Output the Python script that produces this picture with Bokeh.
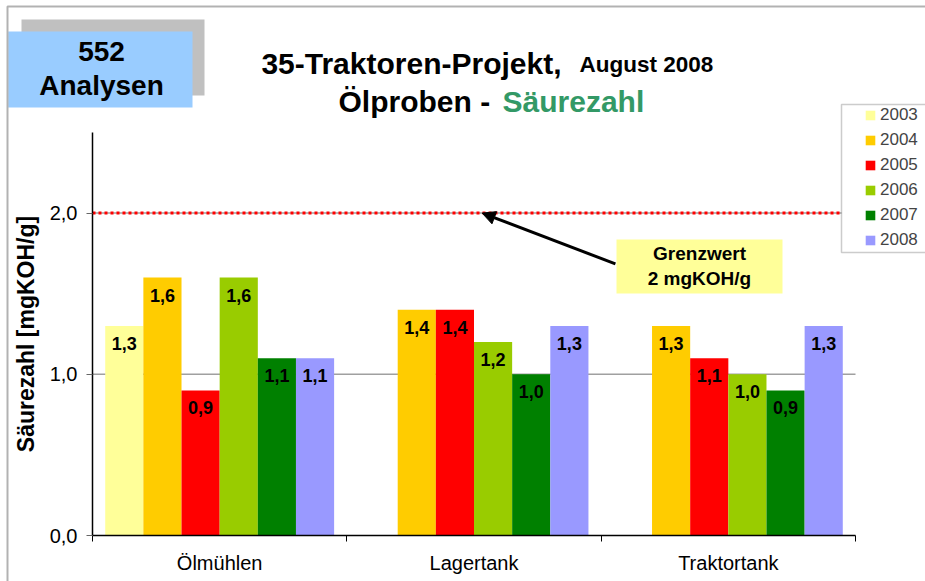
import math
from bokeh.plotting import figure
from bokeh.models import (Range1d, LinearAxis, FixedTicker, ColumnDataSource, Label,
                          BoxAnnotation, Arrow, NormalHead, Legend, LegendItem,
                          CustomJSTickFormatter)
from bokeh.transform import dodge
from bokeh.embed import file_html
from bokeh.resources import INLINE
from bokeh.core.properties import value

# ---------------- data ----------------
categories = ["Ölmühlen", "Lagertank", "Traktortank"]
years = ["2003", "2004", "2005", "2006", "2007", "2008"]
v2003 = [1.3, float("nan"), float("nan")]
v2004 = [1.6, 1.4, 1.3]
v2005 = [0.9, 1.4, 1.1]
v2006 = [1.6, 1.2, 1.0]
v2007 = [1.1, 1.0, 0.9]
v2008 = [1.1, 1.3, 1.3]
colors = ["#FFFF99", "#FFCC00", "#FF0000", "#99CC00", "#008000", "#9999FF"]
limit = 2.0
limit_lines = ["Grenzwert", "2 mgKOH/g"]
y_ticks = [0.0, 1.0, 2.0]
y_max = 2.5
analyses_lines = ["552", "Analysen"]
title_main = "35-Traktoren-Projekt,"
title_date = "August 2008"
title_sub1 = "Ölproben - "
title_sub2 = "Säurezahl"
y_title = "Säurezahl [mgKOH/g]"

FONT = "Liberation Sans"
series = [v2003, v2004, v2005, v2006, v2007, v2008]
n_cat = len(categories)
cat_x = [i + 0.5 for i in range(n_cat)]

def fmt(v):
    return "" if math.isnan(v) else f"{v:.1f}".replace(".", ",")

data = {"cx": cat_x}
for y, vals in zip(years, series):
    data["y" + y] = vals
    data["l" + y] = [fmt(v) for v in vals]
src = ColumnDataSource(data)

# ---------------- layout (pixels) ----------------
W, H = 925, 581
PL, PR, PT, PB = 92, 855, 132, 535          # plot area edges on the canvas
ppx = (PR - PL) / n_cat
ppy = (PB - PT) / y_max

def sy(py):
    return H - py

p = figure(x_range=Range1d(-PL / ppx, (W - PL) / ppx),
           y_range=Range1d(-(H - PB) / ppy, PB / ppy),
           width=W, height=H, output_backend="svg", toolbar_location=None,
           x_axis_location=None, min_border=0)
p.min_border_left = p.min_border_right = p.min_border_top = p.min_border_bottom = 0
p.outline_line_color = None
p.background_fill_color = "white"
p.border_fill_color = "white"
p.xgrid.visible = False
p.ygrid.visible = False

# y axis (fixed at the left edge of the plot area)
yax = p.yaxis[0]
yax.fixed_location = 0
yax.bounds = (0, y_max)
yax.ticker = FixedTicker(ticks=y_ticks)
yax.formatter = CustomJSTickFormatter(code="return tick.toFixed(1).replace('.', ',');")
yax.minor_tick_line_color = None
yax.major_tick_in = 0
yax.major_tick_out = 6
yax.major_tick_line_color = "#666666"
yax.axis_line_color = "black"
yax.axis_line_width = 1.5
yax.major_label_text_font = FONT
yax.major_label_text_font_size = "20px"
yax.major_label_text_color = "black"
yax.major_label_standoff = 9
yax.axis_label = y_title
yax.axis_label_text_font = FONT
yax.axis_label_text_font_size = "23px"
yax.axis_label_text_font_style = "bold"
yax.axis_label_text_color = "black"
yax.axis_label_standoff = 8

# x axes: boundary ticks + category labels
tick_axis = LinearAxis(ticker=FixedTicker(ticks=list(range(n_cat + 1))),
                       formatter=CustomJSTickFormatter(code="return '';"),
                       fixed_location=0, bounds=(0, n_cat),
                       major_tick_out=6, major_tick_in=0, minor_tick_line_color=None,
                       major_label_text_font_size="1px", major_label_standoff=0,
                       axis_line_color="black", axis_line_width=1.5,
                       major_tick_line_color="black")
p.add_layout(tick_axis, "below")
cat_axis = LinearAxis(ticker=FixedTicker(ticks=cat_x),
                      formatter=CustomJSTickFormatter(args=dict(names=categories),
                                                      code="return names[Math.floor(tick)];"),
                      fixed_location=0, bounds=(0, n_cat),
                      axis_line_color=None, major_tick_line_color=None,
                      minor_tick_line_color=None,
                      major_tick_out=0, major_tick_in=0, major_label_standoff=16,
                      major_label_text_font=FONT, major_label_text_font_size="20px",
                      major_label_text_color="black")
p.add_layout(cat_axis, "below")

# grid lines and limit line
grid_vals = [t for t in y_ticks if t > 0]
p.segment(x0=[0] * len(grid_vals), x1=[n_cat] * len(grid_vals), y0=grid_vals, y1=grid_vals,
          line_color="#A0A0A0", line_width=1.5)
p.segment(x0=[0], x1=[n_cat], y0=[limit], y1=[limit], line_color="#FF0000",
          line_dash="3 3", line_width=3)

# bars + labels
width = 0.15
renderers = []
for i, (y, c) in enumerate(zip(years, colors)):
    off = (i - (len(years) - 1) / 2) * width
    r = p.vbar(x=dodge("cx", off), top="y" + y, width=width,
               source=src, fill_color=c, line_color=None)
    renderers.append(r)
    p.text(x=dodge("cx", off), y="y" + y, text="l" + y, source=src,
           text_align="center", text_baseline="top", y_offset=11,
           text_font=value(FONT), text_font_size="18px", text_font_style="bold",
           text_color="black")

def box(l, r, t, b, **kw):
    return BoxAnnotation(left=l, right=r, top=sy(t), bottom=sy(b),
                         left_units="screen", right_units="screen",
                         top_units="screen", bottom_units="screen", **kw)

def label(x, baseline, text, size, align="center", color="black"):
    # placed by the middle of the em box: 0.35 em above the baseline
    return Label(x=x, y=sy(baseline - 0.35 * size), x_units="screen", y_units="screen",
                 text=text, text_align=align, text_baseline="middle", text_font=FONT,
                 text_font_size=f"{size}px", text_font_style="bold", text_color=color)

# arrow + limit box
p.add_layout(Arrow(end=NormalHead(size=13, fill_color="black", line_color="black"),
                   x_start=2.056, y_start=1.685, x_end=1.532, y_end=limit,
                   line_width=3, line_color="black"))
p.add_layout(box(616, 782, 239, 293, fill_color="#FFFF99", fill_alpha=1, line_color=None))
p.add_layout(label(699, 260, limit_lines[0], 19))
p.add_layout(label(699, 284.5, limit_lines[1], 19))

# "552 Analysen" box
p.add_layout(box(21, 204, 19, 95, fill_color="#C0C0C0", fill_alpha=1, line_color=None))
p.add_layout(box(8, 192, 31, 107, fill_color="#99CCFF", fill_alpha=1, line_color=None))
p.add_layout(label(101, 61, analyses_lines[0], 28))
p.add_layout(label(101, 95, analyses_lines[1], 28))

# titles
p.add_layout(label(561, 73, title_main, 30, align="right"))
p.add_layout(label(579, 72, title_date, 22.5, align="left"))
p.add_layout(label(338, 111, title_sub1, 30, align="left"))
p.add_layout(label(502, 111, title_sub2, 30, align="left", color="#339966"))

# legend
p.add_layout(box(841, 1000, 104, 252, fill_color="white", fill_alpha=1,
                 line_color="#555555", line_width=1.5))
legend = Legend(items=[LegendItem(label=y, renderers=[r]) for y, r in zip(years, renderers)],
                location=(864, sy(250)), padding=0, margin=0, border_line_alpha=0,
                background_fill_alpha=0, glyph_width=12, glyph_height=12,
                label_standoff=4, label_text_font=FONT, label_text_font_size="17px",
                label_height=20, spacing=5)
p.add_layout(legend, "center")

# outer frame line
p.add_layout(box(7, 1200, 6, 900, fill_alpha=0, line_color="black", line_width=2))

open("out.html", "w").write(file_html(p, INLINE))
